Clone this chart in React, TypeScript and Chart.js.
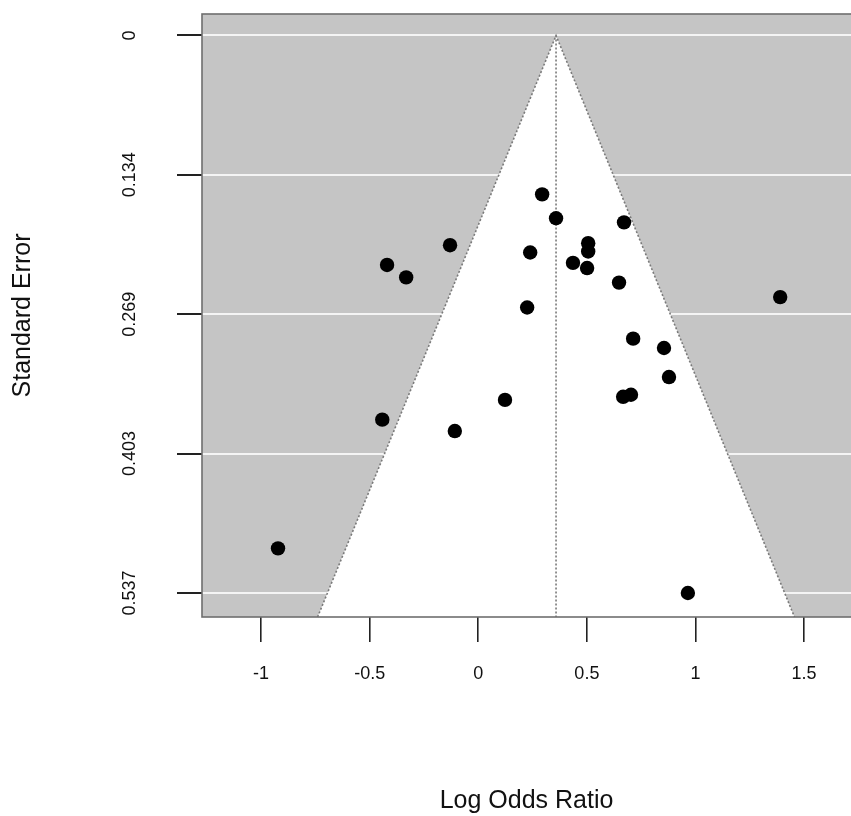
import React, { useEffect, useRef } from "react";
import { Chart, registerables } from "chart.js";

Chart.register(...registerables);

// Study estimates
const logOddsRatio = [
  -0.922, -0.42, -0.332, -0.13, 0.294, 0.358, 0.239, 0.506, 0.506, 0.436, 0.501, 0.671,
  0.648, 0.225, 1.39, 0.713, 0.855, 0.878, 0.667, 0.703, 0.123, -0.442, -0.108, 0.965,
];
const standardError = [
  0.494, 0.221, 0.233, 0.202, 0.153, 0.176, 0.209, 0.2, 0.208, 0.219, 0.224, 0.18,
  0.238, 0.262, 0.252, 0.292, 0.301, 0.329, 0.348, 0.346, 0.351, 0.37, 0.381, 0.537,
];

const xTickValues = [-1, -0.5, 0, 0.5, 1, 1.5];
const xTickLabels = ["-1", "-0.5", "0", "0.5", "1", "1.5"];
const seTickValues = [0, 0.1342, 0.2685, 0.4027, 0.5369];
const seTickLabels = ["0", "0.134", "0.269", "0.403", "0.537"];

const pooledEstimate = 0.358;
const xMin = -1.272;
const xMax = 1.716;
const seMin = -0.0207;
const seMax = 0.5601;

const FONT = "'Liberation Sans', Arial, sans-serif";

const funnelPlugin = {
  id: "funnelPlot",
  beforeDraw(chart: any) {
    const { ctx, chartArea: a } = chart;
    ctx.save();
    ctx.fillStyle = "#c5c5c5";
    ctx.fillRect(a.left, a.top, a.right - a.left, a.bottom - a.top);
    ctx.restore();
  },
  beforeDatasetsDraw(chart: any) {
    const { ctx, chartArea: a } = chart;
    const xs = chart.scales.x;
    const ys = chart.scales.y;
    const apexX = xs.getPixelForValue(pooledEstimate);
    const apexY = ys.getPixelForValue(0);
    const baseY = ys.getPixelForValue(seMax);
    const leftX = xs.getPixelForValue(pooledEstimate - 1.96 * seMax);
    const rightX = xs.getPixelForValue(pooledEstimate + 1.96 * seMax);
    ctx.save();
    ctx.beginPath();
    ctx.moveTo(leftX, baseY);
    ctx.lineTo(apexX, apexY);
    ctx.lineTo(rightX, baseY);
    ctx.closePath();
    ctx.fillStyle = "#ffffff";
    ctx.fill();
    ctx.strokeStyle = "#7a7a7a";
    ctx.lineWidth = 1.6;
    ctx.setLineDash([2, 2]);
    ctx.beginPath();
    ctx.moveTo(leftX, baseY);
    ctx.lineTo(apexX, apexY);
    ctx.lineTo(rightX, baseY);
    ctx.stroke();
    ctx.beginPath();
    ctx.moveTo(apexX, apexY);
    ctx.lineTo(apexX, baseY);
    ctx.stroke();
    ctx.setLineDash([]);
    // box
    ctx.strokeStyle = "#6e6e6e";
    ctx.lineWidth = 1.6;
    ctx.strokeRect(a.left, a.top, a.right - a.left + 10, a.bottom - a.top);
    ctx.restore();
  },
  afterDraw(chart: any) {
    const { ctx } = chart;
    const ys = chart.scales.y;
    ctx.save();
    ctx.fillStyle = "#111111";
    ctx.font = `18px ${FONT}`;
    ctx.textAlign = "center";
    ctx.textBaseline = "middle";
    seTickValues.forEach((v, i) => {
      const py = ys.getPixelForValue(v);
      ctx.save();
      ctx.translate(130, py);
      ctx.rotate(-Math.PI / 2);
      ctx.fillText(seTickLabels[i], 0, 0);
      ctx.restore();
    });
    ctx.restore();
  },
};

export default function App() {
  const ref = useRef<HTMLCanvasElement | null>(null);
  useEffect(() => {
    if (!ref.current) return;
    const chart = new Chart(ref.current, {
      type: "scatter",
      data: {
        datasets: [
          {
            label: "Studies",
            data: logOddsRatio.map((x, i) => ({ x, y: standardError[i] })),
            backgroundColor: "#000000",
            borderColor: "#000000",
            pointRadius: 7.2,
            pointHoverRadius: 7.2,
            borderWidth: 0,
          },
        ],
      },
      options: {
        responsive: false,
        animation: false,
        devicePixelRatio: 1,
        layout: { autoPadding: false, padding: { top: 14, right: 0, left: 0, bottom: 0 } },
        plugins: { legend: { display: false }, tooltip: { enabled: false } },
        scales: {
          x: {
            type: "linear",
            position: "bottom",
            min: xMin,
            max: xMax,
            afterBuildTicks: (s: any) => {
              s.ticks = xTickValues.map((v) => ({ value: v }));
            },
            afterFit: (s: any) => {
              s.height = 199;
              s.paddingLeft = 0;
              s.paddingRight = 0;
            },
            border: { display: false },
            grid: {
              drawOnChartArea: false,
              drawTicks: true,
              tickLength: 25,
              tickColor: "#222222",
              lineWidth: 1.6,
            },
            ticks: {
              autoSkip: false,
              maxRotation: 0,
              padding: 21,
              color: "#111111",
              font: { family: FONT, size: 18 },
              callback: (v: any) => {
                const i = xTickValues.indexOf(Number(v));
                return i >= 0 ? xTickLabels[i] : "";
              },
            },
            title: {
              display: true,
              text: "Log Odds Ratio",
              color: "#111111",
              font: { family: FONT, size: 25 },
              padding: { top: 0, bottom: 0 },
            },
          },
          y: {
            type: "linear",
            position: "left",
            reverse: true,
            min: seMin,
            max: seMax,
            afterBuildTicks: (s: any) => {
              s.ticks = seTickValues.map((v) => ({ value: v }));
            },
            afterFit: (s: any) => {
              s.width = 202;
              s.paddingTop = 0;
              s.paddingBottom = 0;
            },
            border: { display: false },
            grid: {
              drawOnChartArea: true,
              drawTicks: true,
              tickLength: 25,
              color: "#f4f4f4",
              tickColor: "#222222",
              lineWidth: 2,
            },
            ticks: { display: false },
            title: {
              display: true,
              text: "Standard Error",
              color: "#111111",
              font: { family: FONT, size: 25 },
              padding: { top: 8, bottom: 0 },
            },
          },
        },
      },
      plugins: [funnelPlugin],
    });
    return () => chart.destroy();
  }, []);
  return (
    <div style={{ position: "absolute", left: 0, top: 0, width: 851, height: 816, background: "#ffffff" }}>
      <canvas ref={ref} width={851} height={816} />
    </div>
  );
}
